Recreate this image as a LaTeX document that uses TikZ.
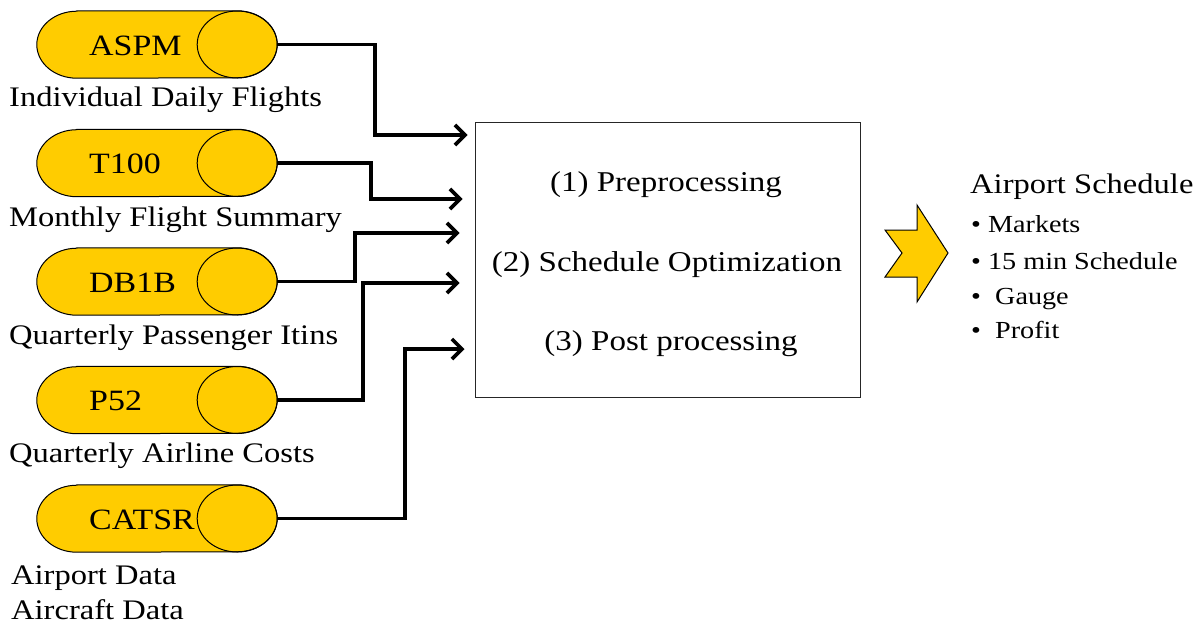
\documentclass[tikz,border=0pt]{standalone}
\usepackage{fontspec}
\setmainfont[FakeStretch=1.15]{Liberation Serif}
\usetikzlibrary{arrows.meta}
\definecolor{gold}{HTML}{FFCC00}
\tikzset{
  conn/.style={line width=3.6pt, -{Straight Barb[length=10pt,width=20pt]}},
  cylbody/.style={draw=black, fill=gold, line width=1pt},
  cyltext/.style={anchor=base west, inner sep=0, font=\fontsize{29.5}{34}\selectfont},
  lbl/.style={anchor=base west, inner sep=0, font=\fontsize{28.3}{34}\selectfont},
  boxtext/.style={anchor=base, inner sep=0, font=\fontsize{28.7}{34}\selectfont},
  bullet/.style={anchor=base west, inner sep=0, font=\fontsize{24.5}{30}\selectfont},
  procbox/.style={draw=black!85, line width=1pt, minimum width=385pt, minimum height=275pt, inner sep=0},
}
\begin{document}
\begin{tikzpicture}[x=1pt,y=-1pt]
\useasboundingbox (0,0) rectangle (1201,627);
% data cylinders
\foreach \n/\c/\t in {aspm/44.5/ASPM, t100/163/T100, db1b/281.5/DB1B, p52/400/P52, catsr/518.5/CATSR}{
  \node[inner sep=0, minimum width=240pt, minimum height=67pt] (\n) at (157,\c) {};
  \draw[cylbody] ([xshift=40pt]\n.north west) -- ([xshift=-40pt]\n.north east)
     arc[start angle=90, end angle=-90, x radius=40pt, y radius=33.5pt]
     -- ([xshift=40pt]\n.south west)
     arc[start angle=270, end angle=90, x radius=40pt, y radius=33.5pt] -- cycle;
  \draw[line width=1pt] ([xshift=-40pt]\n.east) ellipse[x radius=40pt, y radius=33.5pt];
  \node[cyltext] (\n-t) at (89,\c+10.5) {\t};
}
% labels
\node[lbl] (l1) at (9,106) {Individual Daily Flights};
\node[lbl] (l2) at (9,226) {Monthly Flight Summary};
\node[lbl] (l3) at (9,344) {Quarterly Passenger Itins};
\node[lbl] (l4) at (9,462) {Quarterly Airline Costs};
\node[lbl] (l5) at (11,584) {Airport Data};
\node[lbl] (l6) at (11,619) {Aircraft Data};
% process box
\node[procbox] (box) at (667.5,259.5) {};
\node[boxtext] (s1) at (666,191.5) {(1) Preprocessing};
\node[boxtext] (s2) at (667,271.5) {(2) Schedule Optimization};
\node[boxtext] (s3) at (671,350) {(3) Post processing};
% connectors
\draw[conn] (aspm.east) -- (375,44.5) |- ([xshift=-7pt]box.west |- 0,135);
\draw[conn] (t100.east) -- (371,163) |- ([xshift=-12pt]box.west |- 0,199);
\draw[conn] (db1b.east) -- (355,281.5) |- ([xshift=-15pt]box.west |- 0,233);
\draw[conn] (p52.east) -- (363,400) |- ([xshift=-15pt]box.west |- 0,283);
\draw[conn] (catsr.east) -- (405,518.5) |- ([xshift=-10pt]box.west |- 0,349);
% output chevron
\draw[fill=gold, draw=black, line width=1pt, line join=miter]
  (885,230) -- (917,230) -- (917,205) -- (948,253) -- (917,302) -- (917,277) -- (885,277) -- (902,253) -- cycle;
% output text
\node[lbl] (out) at (970,193) {Airport Schedule};
\node[bullet] (b1) at (971,232.5) {• Markets};
\node[bullet] (b2) at (971,269.5) {• 15 min Schedule};
\node[bullet] (b3) at (971,304.5) {• \ Gauge};
\node[bullet] (b4) at (971,338) {• \ Profit};
\end{tikzpicture}
\end{document}
